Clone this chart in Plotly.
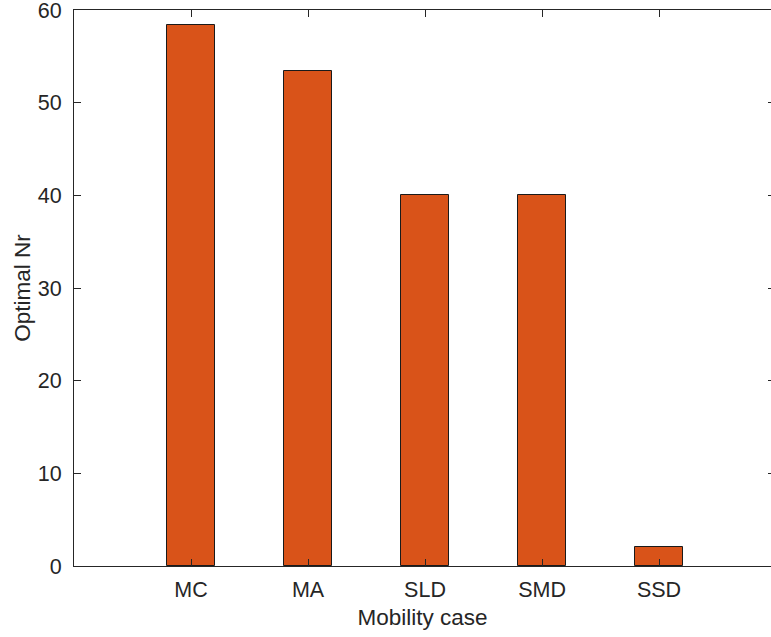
import plotly.graph_objects as go

categories = ["MC", "MA", "SLD", "SMD", "SSD"]
optimal_nr = [58.4, 53.4, 40.0, 40.0, 2.0]
y_ticks = [0, 10, 20, 30, 40, 50, 60]

positions = list(range(1, len(categories) + 1))
axis_color = "#262626"
font_family = "Liberation Sans, Arial, Helvetica, sans-serif"
tick_size = 21.5
title_size = 22.5

fig = go.Figure()
fig.add_trace(go.Bar(
    x=positions, y=optimal_nr, width=0.41,
    marker=dict(color="#D95319", line=dict(color="#1a1a1a", width=1)),
    showlegend=False, hoverinfo="skip",
))
# invisible trace for right-side y ticks
fig.add_trace(go.Scatter(x=[positions[0]], y=[0], yaxis="y2", mode="markers",
                         marker=dict(opacity=0), showlegend=False, hoverinfo="skip"))

fig.update_layout(
    width=771, height=637,
    margin=dict(l=74, r=0, t=10, b=71),
    paper_bgcolor="white", plot_bgcolor="white",
    font=dict(family=font_family, size=tick_size, color=axis_color),
    bargap=0,
    xaxis=dict(
        range=[0, 5.957], tickmode="array", tickvals=positions, ticktext=categories,
        showgrid=False, zeroline=False, showline=True, linecolor=axis_color, linewidth=1,
        mirror="ticks", ticks="inside", ticklen=7, tickcolor=axis_color, tickwidth=1,
        tickfont=dict(size=tick_size, color=axis_color), ticklabelstandoff=4,
        automargin=False,
        title=dict(text="Mobility case", font=dict(size=title_size, color=axis_color),
                   standoff=8),
    ),
    yaxis=dict(
        range=[0, 60], tickmode="array", tickvals=y_ticks,
        showgrid=False, zeroline=False, showline=True, linecolor=axis_color, linewidth=1,
        ticks="inside", ticklen=7, tickcolor=axis_color, tickwidth=1,
        tickfont=dict(size=tick_size, color=axis_color), ticklabelstandoff=7,
        automargin=False, ticklabeloverflow="allow",
        title=dict(text="Optimal Nr", font=dict(size=title_size, color=axis_color),
                   standoff=0),
    ),
    yaxis2=dict(
        range=[0, 60], overlaying="y", side="right", tickmode="array", tickvals=y_ticks,
        showticklabels=False, showgrid=False, zeroline=False, showline=False,
        ticks="inside", ticklen=3, tickcolor=axis_color, automargin=False,
    ),
)

# remove the browser's default 8px body margin so the figure fills the window
fig.write_html(
    "out.html",
    config={"displayModeBar": False},
    post_script="document.body.style.margin='0';document.body.style.overflow='hidden';",
)
